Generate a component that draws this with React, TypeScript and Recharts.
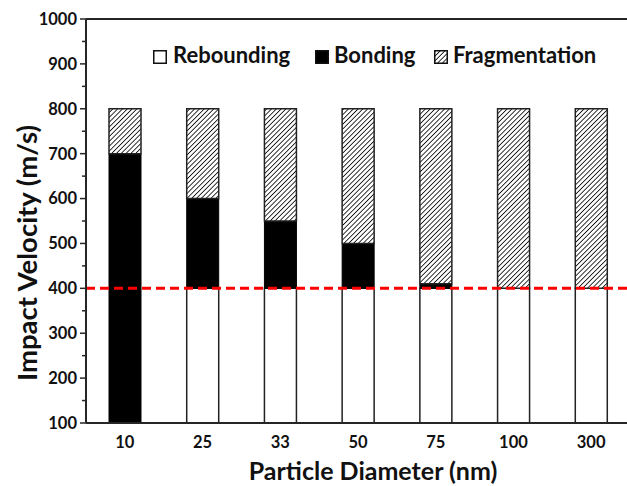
import React from 'react';
import { BarChart, Bar, XAxis, YAxis, ReferenceLine } from 'recharts';

const diameters = ['10', '25', '33', '50', '75', '100', '300'];
const rebounding = [0, 400, 400, 400, 400, 400, 400];
const bonding = [700, 200, 150, 100, 10, 0, 0];
const fragmentation = [100, 200, 250, 300, 390, 400, 400];
const yTicks = [100, 150, 200, 250, 300, 350, 400, 450, 500, 550, 600, 650, 700, 750, 800, 850, 900, 950, 1000];
const thresholdVelocity = 400;
const seriesNames = ['Rebounding', 'Bonding', 'Fragmentation'];
const xTitle = 'Particle Diameter (nm)';
const yTitle = 'Impact Velocity (m/s)';

const data = diameters.map((d, i) => ({
  diameter: d,
  rebounding: rebounding[i],
  bonding: bonding[i],
  fragmentation: fragmentation[i],
}));

const FONT = 'Lato, "DejaVu Sans", sans-serif';
const AXIS = '#262626';

const YTick = (props: any) => {
  const { x, y, payload } = props;
  const v = payload.value;
  const major = v % 100 === 0;
  const ax = x + 8;
  return (
    <g>
      <line x1={ax - (major ? 6 : 4)} x2={ax} y1={y} y2={y} stroke={AXIS} strokeWidth={1.5} />
      {major && (
        <text x={x - 1} y={y} dy="0.36em" textAnchor="end" fontFamily={FONT} fontWeight={700} fontSize={16.5} fill="#111">
          {v}
        </text>
      )}
    </g>
  );
};

const XTick = (props: any) => {
  const { x, y, payload } = props;
  return (
    <text x={x} y={y + 17} textAnchor="middle" fontFamily={FONT} fontWeight={700} fontSize={16.5} fill="#111">
      {payload.value}
    </text>
  );
};

const legendFills = ['#ffffff', '#000000', 'url(#hatchLegend)'];
const legendBoxLeft = [153, 315, 434];
const legendTextLeft = [173, 334, 453];

export default function App() {
  return (
    <div style={{ position: 'absolute', left: 0, top: 0, width: 627, height: 486, overflow: 'hidden', background: '#fff' }}>
      <BarChart
        width={640}
        height={486}
        data={data}
        margin={{ top: 19, right: 10, left: 0, bottom: 0 }}
        barSize={32}
      >
        <defs>
          <pattern id="hatch" width="3.4" height="3.4" patternUnits="userSpaceOnUse" patternTransform="rotate(45)">
            <rect width="3.4" height="3.4" fill="#fff" />
            <line x1="0" y1="0" x2="0" y2="3.4" stroke="#000" strokeWidth="1.6" />
          </pattern>
        </defs>
        <XAxis
          dataKey="diameter"
          height={63}
          tickLine={false}
          tickSize={6}
          tickMargin={2}
          axisLine={{ stroke: AXIS, strokeWidth: 2 }}
          tick={<XTick />}
          label={{
            content: (p: any) => {
              const vb = p.viewBox;
              return (
                <text x={vb.x + vb.width / 2 + 15} y={vb.y + 57} textAnchor="middle" fontFamily={FONT} fontWeight={700} fontSize={25} fill="#111">
                  {xTitle}
                </text>
              );
            },
          }}
        />
        <YAxis
          width={86}
          domain={[100, 1000]}
          allowDataOverflow
          ticks={yTicks}
          interval={0}
          tickLine={false}
          tickSize={6}
          tickMargin={2}
          axisLine={{ stroke: AXIS, strokeWidth: 2 }}
          tick={<YTick />}
          label={{
            content: (p: any) => {
              const vb = p.viewBox;
              const cx = 37;
              const cy = vb.y + vb.height / 2 + 32;
              return (
                <text x={cx} y={cy} transform={`rotate(-90, ${cx}, ${cy})`} textAnchor="middle" fontFamily={FONT} fontWeight={700} fontSize={27.5} fill="#111">
                  {yTitle}
                </text>
              );
            },
          }}
        />
        <Bar dataKey="rebounding" name={seriesNames[0]} stackId="a" fill="#ffffff" stroke="#222" strokeWidth={1.5} isAnimationActive={false} />
        <Bar dataKey="bonding" name={seriesNames[1]} stackId="a" fill="#000000" stroke="#000" strokeWidth={1} isAnimationActive={false} />
        <Bar dataKey="fragmentation" name={seriesNames[2]} stackId="a" fill="url(#hatch)" stroke="#222" strokeWidth={1.5} isAnimationActive={false} />
        <ReferenceLine y={1000} stroke={AXIS} strokeWidth={2} />
        <ReferenceLine y={thresholdVelocity} stroke="#ff0000" strokeWidth={3} strokeDasharray="9 5" />
      </BarChart>
      <svg width={627} height={486} style={{ position: 'absolute', left: 0, top: 0, pointerEvents: 'none' }}>
        <defs>
          <pattern id="hatchLegend" width="3.4" height="3.4" patternUnits="userSpaceOnUse" patternTransform="rotate(45)">
            <rect width="3.4" height="3.4" fill="#fff" />
            <line x1="0" y1="0" x2="0" y2="3.4" stroke="#000" strokeWidth="1.6" />
          </pattern>
        </defs>
        {seriesNames.map((name, i) => (
          <g key={name}>
            <rect x={legendBoxLeft[i] + 0.75} y={50.75} width={12.5} height={12.5} fill={legendFills[i]} stroke="#111" strokeWidth={1.5} />
            <text x={legendTextLeft[i]} y={63} fontFamily={FONT} fontWeight={700} fontSize={22} fill="#111">
              {name}
            </text>
          </g>
        ))}
      </svg>
    </div>
  );
}
